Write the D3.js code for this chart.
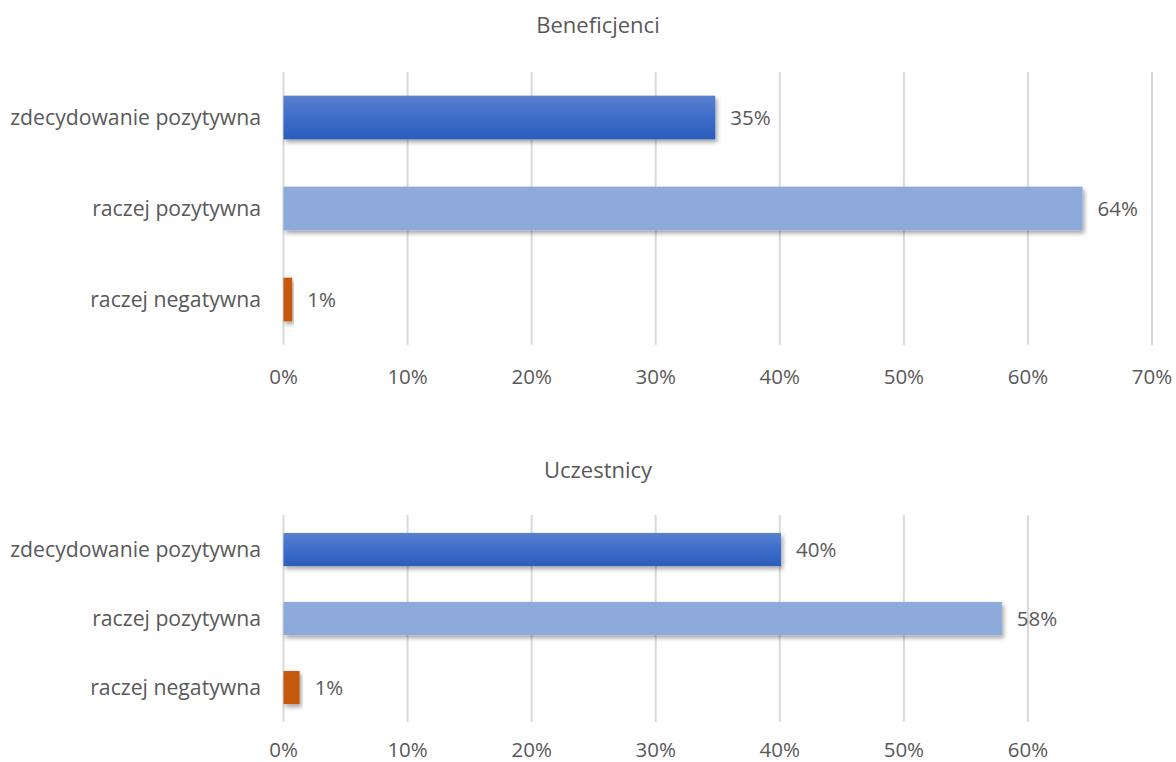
<!DOCTYPE html>
<html>
<head>
<meta charset="utf-8">
<script src="https://cdn.jsdelivr.net/npm/d3@7"></script>
<style>
  body { margin: 0; background: #fff; }
  text { font-family: "Open Sans", Lato, sans-serif; fill: #595959; }
</style>
</head>
<body>
<div id="chart"></div>
<script>
const categories = ["zdecydowanie pozytywna", "raczej pozytywna", "raczej negatywna"];
const beneficjenci = [0.348, 0.644, 0.007];
const uczestnicy = [0.401, 0.579, 0.013];
const ticksTop = [0, 0.1, 0.2, 0.3, 0.4, 0.5, 0.6, 0.7];
const ticksBottom = [0, 0.1, 0.2, 0.3, 0.4, 0.5, 0.6];
const titles = ["Beneficjenci", "Uczestnicy"];

const W = 1176, H = 762;
const svg = d3.select('#chart').append('svg').attr('width', W).attr('height', H);

const defs = svg.append('defs');
let grad = defs.append('linearGradient').attr('id', 'darkGrad')
    .attr('x1', 0).attr('y1', 0).attr('x2', 0).attr('y2', 1);
grad.append('stop').attr('offset', '0%').attr('stop-color', '#5b80ce');
grad.append('stop').attr('offset', '50%').attr('stop-color', '#3d6dca');
grad.append('stop').attr('offset', '100%').attr('stop-color', '#2b5dba');

let shadow = defs.append('filter').attr('id', 'shadow')
    .attr('x', '-10%').attr('y', '-20%').attr('width', '130%').attr('height', '160%');
shadow.append('feDropShadow').attr('dx', 2).attr('dy', 3).attr('stdDeviation', 2)
    .attr('flood-color', '#000').attr('flood-opacity', 0.35);

const colors = ['url(#darkGrad)', '#8eaadb', '#c55a11'];

const x = d3.scaleLinear().domain([0, 0.7]).range([283.5, 1152]);
const fmt = d3.format('.0%');

function drawPanel(values, ticks, title, top, bottom, titleY, tickY) {
    let g = svg.append('g');
    let y = d3.scaleBand().domain(categories).range([top, bottom])
        .paddingInner(0.52).paddingOuter(0.26);

    // gridlines
    g.selectAll('line.grid').data(ticks).enter().append('line')
        .attr('x1', d => x(d)).attr('x2', d => x(d))
        .attr('y1', top).attr('y2', bottom)
        .attr('stroke', '#d9d9d9').attr('stroke-width', 2);

    // tick labels
    g.selectAll('text.tick').data(ticks).enter().append('text')
        .attr('x', d => x(d)).attr('y', tickY)
        .attr('text-anchor', 'middle')
        .attr('font-size', '20.5px')
        .text(d => fmt(d));

    // category labels
    g.selectAll('text.cat').data(categories).enter().append('text')
        .attr('x', 261)
        .attr('y', d => y(d) + y.bandwidth() / 2)
        .attr('dy', '0.35em')
        .attr('text-anchor', 'end')
        .attr('font-size', '21.2px')
        .text(d => d);

    // bars
    g.selectAll('rect').data(values).enter().append('rect')
        .attr('x', x(0))
        .attr('y', (d, i) => y(categories[i]))
        .attr('width', d => x(d) - x(0))
        .attr('height', y.bandwidth())
        .attr('fill', (d, i) => colors[i])
        .attr('filter', 'url(#shadow)');

    // value labels
    g.selectAll('text.val').data(values).enter().append('text')
        .attr('x', d => x(d) + 15)
        .attr('y', (d, i) => y(categories[i]) + y.bandwidth() / 2)
        .attr('dy', '0.35em')
        .attr('font-size', '20.5px')
        .text(d => fmt(d));

    g.append('text')
        .attr('x', 598).attr('y', titleY)
        .attr('text-anchor', 'middle')
        .attr('font-size', '22px')
        .text(title);
}

drawPanel(beneficjenci, ticksTop, titles[0], 72, 345, 33, 384);
drawPanel(uczestnicy, ticksBottom, titles[1], 515, 722, 478, 757);
</script>
</body>
</html>
